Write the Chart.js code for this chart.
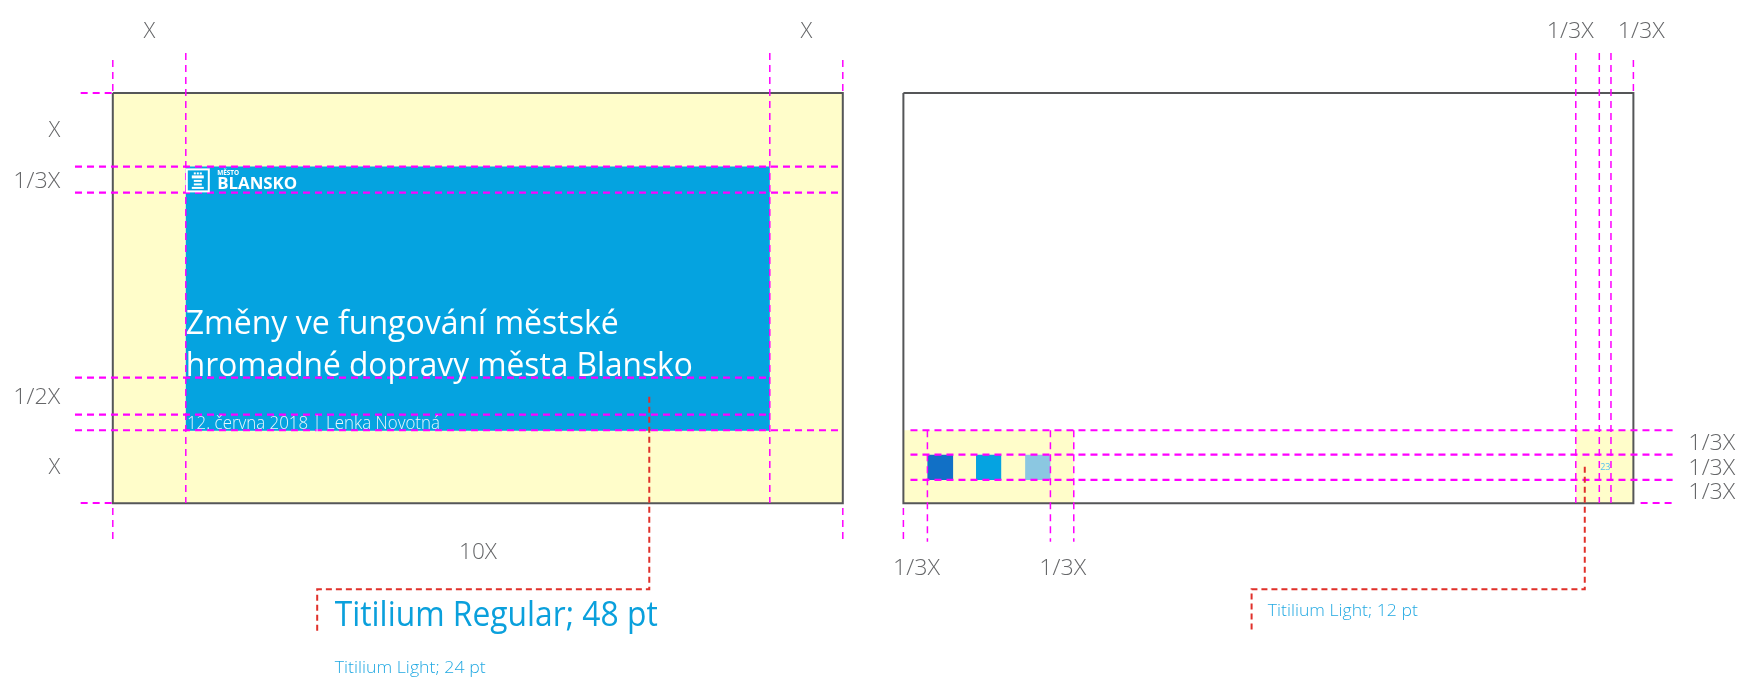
<!DOCTYPE html>
<html><head><meta charset="utf-8">
<script src="https://cdn.jsdelivr.net/npm/chart.js@4.4.1/dist/chart.umd.min.js"></script>
<style>html,body{margin:0;padding:0;background:#fff;overflow:hidden}canvas{display:block}</style>
</head><body>
<canvas id="c" width="1744" height="680"></canvas>
<script>
// ===== DATA (all values in units of X; origin = top-left corner of the title slide) =====
const slideLeft   = [0, 10.83];          // left edge of each slide
const slideRight  = [10, 20.83];
const slideTop    = 0;
const slideBottom = 5.59;

const blueBoxX = [1, 9];                 // content box of title slide
const blueBoxY = [1, 4.6];

const footerZonesX = [[10.83, 13.164], [20.041, 20.83]];   // highlighted footer zones (content slide)
const footerZoneY  = [4.595, 5.59];

const squareColors = ['#1170c6', '#05a3e1', '#8bc7e1'];
const squareX = [[11.159, 11.511], [11.825, 12.17], [12.498, 12.844]];
const squareY = [4.928, 5.272];

// horizontal guides: y, from, to
const hGuideY    = [0, 1.004, 1.358, 3.879, 4.383, 4.595, 5.586, 4.595, 4.928, 5.272, 5.586];
const hGuideFrom = [-0.44, -0.518, -0.518, -0.518, -0.518, -0.518, -0.44, 10.927, 10.927, 10.927, 20.929];
const hGuideTo   = [0, 10, 10, 9, 9, 10, 0, 21.367, 21.367, 21.367, 21.367];

// vertical guides: x, from, to
const vGuideX    = [0, 0, 1.0, 9.0, 10, 10, 10.83, 11.159, 12.844, 13.164, 20.041, 20.363, 20.523, 20.83];
const vGuideFrom = [-0.45, 5.654, -0.545, -0.545, -0.45, 5.654, 5.654, 4.595, 4.595, 4.595, -0.545, -0.545, -0.545, -0.45];
const vGuideTo   = [0, 6.113, 5.586, 5.586, 0, 6.113, 6.113, 6.113, 6.113, 6.113, 5.586, 5.586, 5.586, 0];

// red callout leaders
const calloutX = [[7.349, 7.349, 2.80, 2.80], [20.164, 20.164, 15.6, 15.6]];
const calloutY = [[4.138, 6.762, 6.762, 7.339], [5.091, 6.762, 6.762, 7.339]];

// dimension labels
const dimTexts = ['X', 'X', '1/3X', '1/3X', 'X', '1/3X', '1/2X', 'X', '10X', '1/3X', '1/3X', '1/3X', '1/3X', '1/3X'];
const dimX     = [0.5, 9.5, 19.964, 20.937, -0.72, -0.72, -0.72, -0.72, 5.003, 21.583, 21.583, 21.583, 11.01, 13.012];
const dimY     = [-0.835, -0.835, -0.835, -0.835, 0.518, 1.208, 4.151, 5.109, 6.267, 4.782, 5.113, 5.446, 6.476, 6.476];
const dimAlign = ['center','center','center','center','right','right','right','right','center','left','left','left','center','center'];

// slide texts
const logoSmall = 'MĚSTO';
const logoBig = 'BLANSKO';
const titleLines = ['Změny ve fungování městské', 'hromadné dopravy města Blansko'];
const titleBaseY = [3.287, 3.856];
const dateLine = '12. června 2018 | Lenka Novotná';
const pageNumber = '23';

// font specifications
const specTexts = ['Titilium Regular; 48 pt', 'Titilium Light; 24 pt', 'Titilium Light; 12 pt'];
const specX = [3.04, 3.04, 15.822];
const specY = [7.135, 7.834, 7.053];

// ===== geometry of the drawing frame =====
const PX_PER_X_H = 73.0, PX_PER_X_V = 73.4, ORIGIN_X = 112.8, ORIGIN_Y = 93, W = 1744, H = 680;

const MAGENTA = '#ff00ff', RED = '#e0302a', YELLOW = '#fffdca', BLUE = '#05a3e0', GRAY = '#666769', FRAME = '#555658';

function rect(x1, x2, y1, y2) {
  return [{x:x1,y:y1},{x:x2,y:y1},{x:x2,y:y2},{x:x1,y:y2},{x:x1,y:y1}];
}
const base = {showLine:true, pointRadius:0, pointHoverRadius:0, tension:0};
const datasets = [];

// fills
datasets.push({...base, data: rect(slideLeft[0], slideRight[0], slideTop, slideBottom), fill:'shape', backgroundColor:YELLOW, borderColor:'rgba(0,0,0,0)', borderWidth:0, order:10});
footerZonesX.forEach(z => datasets.push({...base, data: rect(z[0], z[1], footerZoneY[0], footerZoneY[1]), fill:'shape', backgroundColor:YELLOW, borderColor:'rgba(0,0,0,0)', borderWidth:0, order:10}));
datasets.push({...base, data: rect(blueBoxX[0], blueBoxX[1], blueBoxY[0], blueBoxY[1]), fill:'shape', backgroundColor:BLUE, borderColor:'rgba(0,0,0,0)', borderWidth:0, order:9});
squareX.forEach((s, i) => datasets.push({...base, data: rect(s[0], s[1], squareY[0], squareY[1]), fill:'shape', backgroundColor:squareColors[i], borderColor:'rgba(0,0,0,0)', borderWidth:0, order:8}));
// slide frames
slideLeft.forEach((l, i) => datasets.push({...base, data: rect(l, slideRight[i], slideTop, slideBottom), fill:false, borderColor:FRAME, borderWidth:2, borderJoinStyle:'miter', order:5}));
// guides
hGuideY.forEach((y, i) => datasets.push({...base, data:[{x:hGuideFrom[i], y}, {x:hGuideTo[i], y}], fill:false, borderColor:MAGENTA, borderWidth:2.2, borderDash:[7,5], order:2}));
vGuideX.forEach((x, i) => datasets.push({...base, data:[{x, y:vGuideFrom[i]}, {x, y:vGuideTo[i]}], fill:false, borderColor:MAGENTA, borderWidth:1.5, borderDash:[7,5], order:2}));
calloutX.forEach((xs, i) => datasets.push({...base, data: xs.map((x, k) => ({x, y:calloutY[i][k]})), fill:false, borderColor:RED, borderWidth:2, borderDash:[6,4], order:1}));

const FONT = '"Open Sans", "Liberation Sans", sans-serif';

const textPlugin = {
  id: 'texts',
  afterDatasetsDraw(chart) {
    const {ctx, scales:{x, y}} = chart;
    const px = v => x.getPixelForValue(v), py = v => y.getPixelForValue(v);
    function txt(s, ux, uy, o) {
      ctx.save();
      ctx.font = `${o.weight || 400} ${o.size}px ${o.family || FONT}`;
      ctx.fillStyle = o.color;
      ctx.textBaseline = o.base || 'middle';
      ctx.textAlign = 'left';
      const w = ctx.measureText(s).width;
      const sx = o.width ? o.width / w : 1;
      const X = px(ux), Y = py(uy);
      const left = o.align === 'center' ? X - w * sx / 2 : o.align === 'right' ? X - w * sx : X;
      ctx.translate(left, Y);
      ctx.scale(sx, 1);
      ctx.fillText(s, 0, 0);
      ctx.restore();
    }
    // dimension labels
    dimTexts.forEach((s, i) => txt(s, dimX[i], dimY[i], {size:22, weight:300, color:GRAY, align:dimAlign[i], width: s === 'X' ? null : (s === '10X' ? 38 : 47)}));
    // logo icon
    const ix = px(blueBoxX[0]), iy = py(blueBoxY[0]) + 2;
    ctx.save();
    ctx.strokeStyle = '#fff'; ctx.fillStyle = '#fff'; ctx.lineWidth = 2;
    ctx.strokeRect(ix + 1, iy + 1, 22, 22);
    [[8,4],[11,4],[14,4]].forEach(d => ctx.fillRect(ix + d[0], iy + d[1], 2, 2));
    ctx.fillRect(ix + 6, iy + 7, 12, 3);
    ctx.fillRect(ix + 8, iy + 11.5, 8, 2);
    ctx.fillRect(ix + 8, iy + 15, 8, 2);
    ctx.fillRect(ix + 6, iy + 18.5, 12, 2);
    ctx.restore();
    txt(logoSmall, 1.43, 1.09, {size:7, weight:700, color:'#fff', width:22});
    txt(logoBig, 1.43, 1.312, {size:16, weight:700, color:'#fff', base:'alphabetic', width:80});
    // title
    titleLines.forEach((s, i) => txt(s, 1.0, titleBaseY[i], {size:32, weight:400, color:'#fff', base:'alphabetic', width: i === 0 ? 433 : 507}));
    txt(dateLine, 1.015, 4.582, {size:18, weight:300, color:'#e6f6fd', base:'alphabetic', width:253});
    txt(pageNumber, 20.446, 5.105, {size:9, weight:400, color:'#55c0f0', align:'center'});
    // font spec notes
    txt(specTexts[0], specX[0], specY[0], {size:34, weight:400, color:'#0aa0dc', width:323});
    txt(specTexts[1], specX[1], specY[1], {size:17, weight:300, color:'#22a9e2', width:151});
    txt(specTexts[2], specX[2], specY[2], {size:17, weight:300, color:'#22a9e2', width:150});
  }
};

new Chart(document.getElementById('c'), {
  type: 'scatter',
  data: {datasets},
  options: {
    responsive: false,
    animation: false,
    events: [],
    layout: {padding: 0},
    plugins: {legend: {display:false}, tooltip: {enabled:false}},
    scales: {
      x: {type:'linear', display:false, min: -ORIGIN_X / PX_PER_X_H, max: (W - ORIGIN_X) / PX_PER_X_H},
      y: {type:'linear', display:false, reverse:true, min: -ORIGIN_Y / PX_PER_X_V, max: (H - ORIGIN_Y) / PX_PER_X_V}
    }
  },
  plugins: [textPlugin]
});
</script>
</body></html>
